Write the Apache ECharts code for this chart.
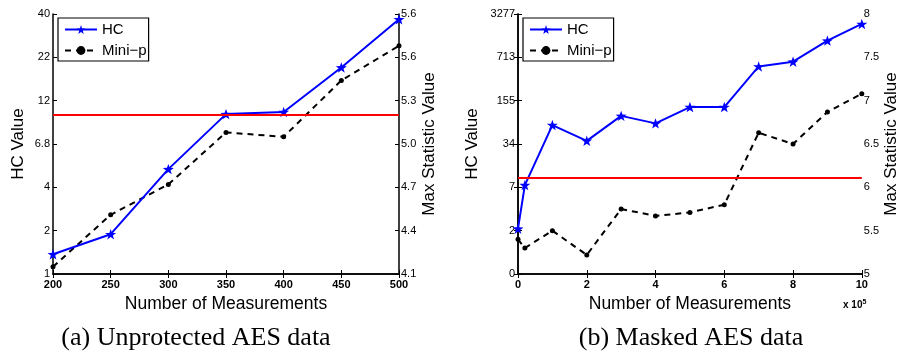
<!DOCTYPE html>
<html>
<head>
<meta charset="utf-8">
<script src="https://cdn.jsdelivr.net/npm/echarts@6/dist/echarts.min.js"></script>
<style>
  html, body { margin: 0; padding: 0; background: #fff; }
  #chart { width: 901px; height: 352px; }
</style>
</head>
<body>
<div id="chart"></div>
<script>
// (a) unprotected AES
const aesX = [200, 250, 300, 350, 400, 450, 500];
const aesHC = [1.37, 1.89, 5.0, 10.06, 10.35, 19.1, 37.2];
const aesMiniP = [4.15, 4.51, 4.72, 5.08, 5.05, 5.44, 5.68];
const aesHcTicks = [1, 2, 4, 6.8, 12, 22, 40];
const aesStatTicks = ["4.1", "4.4", "4.7", "5.0", "5.3", "5.6", "5.6"];
const aesStatMin = 4.1, aesStatStep = 0.3;
const aesThreshold = 5.2;

// (b) masked AES
const maskedX = [0, 0.2, 1, 2, 3, 4, 5, 6, 7, 8, 9, 10];
const maskedHC = [2.12, 7.6, 66, 38, 91, 70, 124, 124, 517, 612, 1283, 2307];
const maskedMiniP = [5.40, 5.30, 5.50, 5.22, 5.75, 5.67, 5.71, 5.80, 6.63, 6.50, 6.87, 7.08];
const maskedHcTicks = [0, 2, 7, 34, 155, 713, 3277];
const maskedStatTicks = ["5", "5.5", "6", "6.5", "7", "7.5", "8"];
const maskedStatMin = 5, maskedStatStep = 0.5;
const maskedThreshold = 6.11;

// HC axis is labelled at uneven (roughly log) ticks: map value -> tick index
function hcToIndex(v, ticks) {
  for (let i = 0; i < ticks.length - 1; i++) {
    const a = ticks[i], b = ticks[i + 1];
    if (v <= b || i === ticks.length - 2) {
      if (a <= 0) return i + (v - a) / (b - a);
      return i + Math.log(v / a) / Math.log(b / a);
    }
  }
}
const statToIndex = (v, min, step) => (v - min) / step;

const star = "path://M0,-10L2.35,-3.24L9.51,-3.09L3.8,1.24L5.88,8.09L0,4L-5.88,8.09L-3.8,1.24L-9.51,-3.09L-2.35,-3.24Z";
const font = "Liberation Sans";

const chart = echarts.init(document.getElementById("chart"), null, { renderer: "canvas" });

const grids = [
  { left: 53, right: 502, top: 14, bottom: 78 },
  { left: 518, right: 37, top: 14, bottom: 78 },
];

const axisLine = { lineStyle: { color: "#000", width: 1.5 } };
const tick = { inside: true, length: 4, lineStyle: { color: "#000" } };

function xAxes(g, min, max, interval) {
  return [
    {
      type: "value", gridIndex: g, min, max, interval, position: "bottom",
      name: "Number of Measurements", nameLocation: "middle", nameGap: 16,
      nameTextStyle: { fontFamily: font, fontSize: 17.5, color: "#000" },
      axisLine, axisTick: tick, splitLine: { show: false },
      axisLabel: { fontFamily: font, fontSize: 11, fontWeight: "bold", color: "#000", margin: 5 },
    },
    {
      type: "value", gridIndex: g, min, max, interval, position: "top",
      axisLine, axisTick: tick, splitLine: { show: false }, axisLabel: { show: false },
    },
  ];
}

function yAxes(g, hcTicks, statTicks, gapL, gapR) {
  return [
    {
      type: "value", gridIndex: g, min: 0, max: 6, interval: 1, position: "left",
      name: "HC Value", nameLocation: "middle", nameGap: gapL,
      nameTextStyle: { fontFamily: font, fontSize: 17, color: "#000" },
      axisLine, axisTick: tick, splitLine: { show: false },
      axisLabel: { fontFamily: font, fontSize: 11, color: "#000", margin: 3,
        formatter: (v) => String(hcTicks[Math.round(v)]) },
    },
    {
      type: "value", gridIndex: g, min: 0, max: 6, interval: 1, position: "right",
      name: "Max Statistic Value", nameLocation: "middle", nameGap: gapR,
      nameTextStyle: { fontFamily: font, fontSize: 17, color: "#000" },
      axisLine, axisTick: tick, splitLine: { show: false },
      axisLabel: { fontFamily: font, fontSize: 11, color: "#000", margin: 2,
        formatter: (v) => statTicks[Math.round(v)] },
    },
  ];
}

function seriesFor(g, xs, hc, hcTicks, mini, statMin, statStep, threshold) {
  return [
    {
      name: "HC", type: "line", xAxisIndex: g * 2, yAxisIndex: g * 2,
      data: xs.map((x, i) => [x, hcToIndex(hc[i], hcTicks)]),
      symbol: star, symbolSize: 11, symbolKeepAspect: true,
      lineStyle: { color: "#0000ff", width: 2 },
      itemStyle: { color: "#0000ff" },
      z: 3,
      markLine: {
        silent: true, symbol: "none", label: { show: false },
        lineStyle: { color: "#ff0000", width: 1.8, type: "solid" },
        data: [{ yAxis: statToIndex(threshold, statMin, statStep) }],
      },
    },
    {
      name: "Mini\u2212p", type: "line", xAxisIndex: g * 2, yAxisIndex: g * 2 + 1,
      data: xs.map((x, i) => [x, statToIndex(mini[i], statMin, statStep)]),
      symbol: "circle", symbolSize: 5,
      lineStyle: { color: "#000", width: 2, type: [6, 5] },
      itemStyle: { color: "#000" },
      z: 2,
    },
  ];
}

function legendFor(left, seriesIndex) {
  return {
    left, top: 18, orient: "vertical", seriesIndex,
    backgroundColor: "#fff", borderColor: "#000", borderWidth: 1.2,
    padding: [4, 2, 3, 6], itemWidth: 32, itemHeight: 11, itemGap: 6,
    textStyle: { fontFamily: font, fontSize: 15, color: "#000" },
    data: ["HC", "Mini\u2212p"],
  };
}

chart.setOption({
  animation: false,
  grid: grids,
  xAxis: [...xAxes(0, 200, 500, 50), ...xAxes(1, 0, 10, 2)],
  yAxis: [...yAxes(0, aesHcTicks, aesStatTicks, 26, 22), ...yAxes(1, maskedHcTicks, maskedStatTicks, 37, 21)],
  legend: [legendFor(58, [0, 1]), legendFor(523, [2, 3])],
  series: [
    ...seriesFor(0, aesX, aesHC, aesHcTicks, aesMiniP, aesStatMin, aesStatStep, aesThreshold),
    ...seriesFor(1, maskedX, maskedHC, maskedHcTicks, maskedMiniP, maskedStatMin, maskedStatStep, maskedThreshold),
  ],
  title: [
    { text: "(a) Unprotected AES data", left: 191, top: 320, textAlign: "center",
      textStyle: { fontFamily: "Liberation Serif", fontSize: 26, fontWeight: "normal", color: "#000" } },
    { text: "(b) Masked AES data", left: 686, top: 320, textAlign: "center",
      textStyle: { fontFamily: "Liberation Serif", fontSize: 26, fontWeight: "normal", color: "#000" } },
    { text: "x 10{s|5}", left: 838, top: 294,
      textStyle: { fontFamily: font, fontSize: 10, fontWeight: "bold", color: "#000",
        rich: { s: { fontFamily: font, fontSize: 7, fontWeight: "bold", verticalAlign: "top", padding: [0, 0, 5, 0] } } } },
  ],
});
</script>
</body>
</html>
